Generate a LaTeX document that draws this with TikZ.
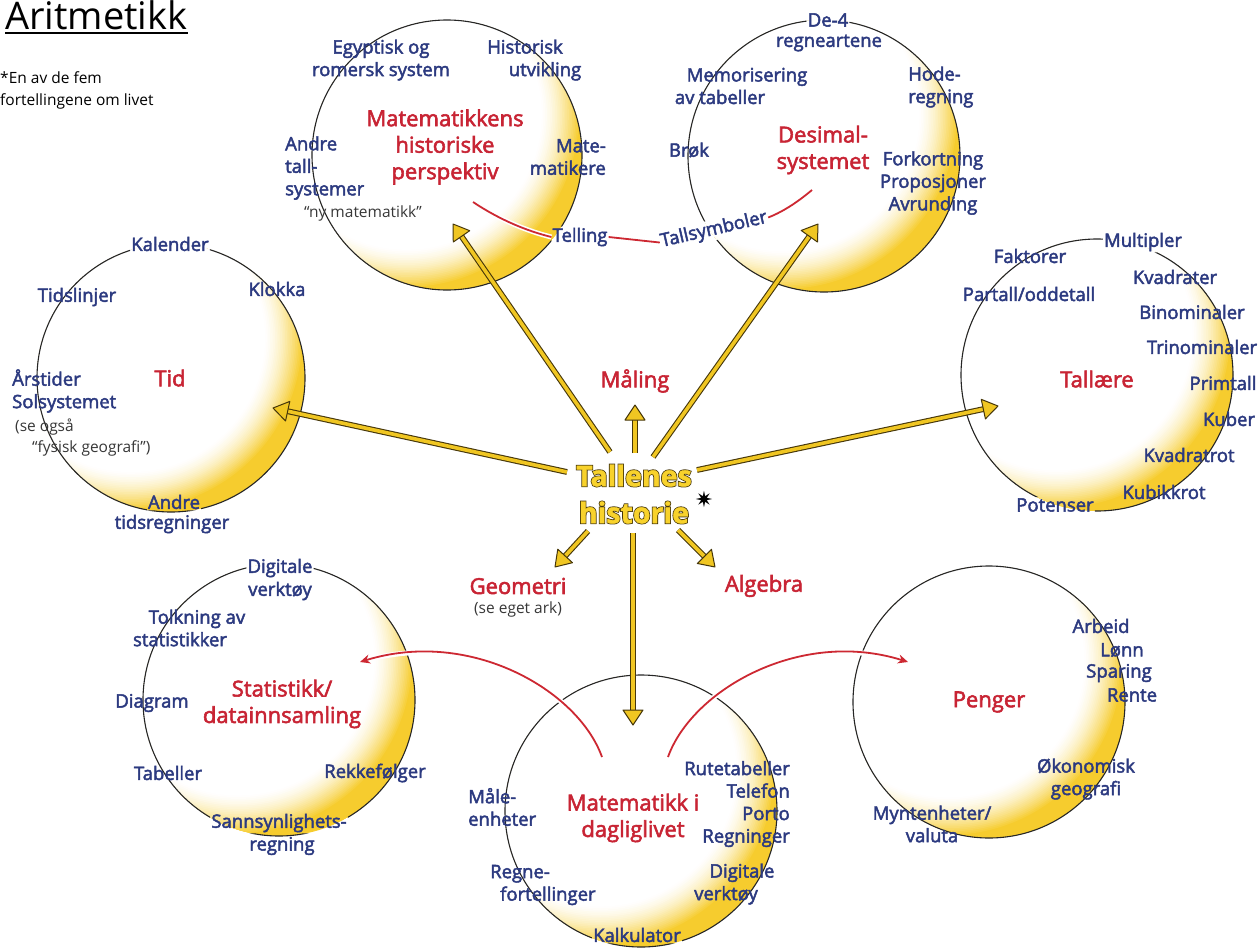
\documentclass[tikz,border=0pt]{standalone}
\usepackage{fontspec}
\setmainfont{Open Sans}
\newfontfamily\blfont{Open Sans}[FakeBold=2.5]
\newfontfamily\cenfont{Open Sans}[BoldFeatures={FakeBold=1.5}]
\newfontfamily\cenoutfont{Open Sans}[BoldFeatures={FakeBold=7}]
\newfontfamily\symfont{DejaVu Sans}
\usetikzlibrary{calc,arrows.meta}
\definecolor{lblue}{RGB}{44,58,128}
\definecolor{tred}{RGB}{200,36,52}
\definecolor{gy}{RGB}{246,204,46}
\definecolor{ay}{RGB}{240,198,34}
\definecolor{cy}{RGB}{248,210,44}
\definecolor{ad}{RGB}{70,55,10}
\definecolor{gtxt}{RGB}{55,55,55}
\definecolor{rl}{RGB}{205,40,50}
\pgfdeclarelayer{bglayer}
\pgfsetlayers{bglayer,main}
\newcommand\yarr[2]{%
  \coordinate (yb#2) at ($(#2)!15pt!(#1)$);
  \draw[yshaft] (#1) -- (yb#2);
  \draw[yhead] (#2) -- ($(yb#2)!10pt!90:(#2)$) -- ($(yb#2)!10pt!-90:(#2)$) -- cycle;
}
\begin{document}
\begin{tikzpicture}[x=1pt,y=-1pt,
  lbl/.style={font=\blfont\fontsize{18.5}{22.5}\selectfont, text=lblue, align=center, inner sep=1pt},
  ttl/.style={font=\blfont\fontsize{22}{26.5}\selectfont, text=tred, align=center, inner sep=1pt},
  gry/.style={font=\fontsize{15.5}{21}\selectfont, text=gtxt, align=center, inner sep=1pt},
  redln/.style={draw=rl, line width=1.8pt, preaction={draw=white, line width=5pt, arrows=-}},
  yshaft/.style={draw=ay, line width=3.6pt, preaction={draw=ad, line width=5.8pt}},
  yhead/.style={fill=ay, draw=ad, line width=1pt, line join=round},
  circ/.style={draw=black!85, line width=1.1pt}]
\useasboundingbox (0,0) rectangle (1259,951);

% title and note
\node[font=\fontsize{38}{40}\selectfont, anchor=base west, inner sep=0pt] (title) at (5,29) {Aritmetikk};
\draw[line width=2.6pt] ([yshift=-4pt]title.base west) -- ([yshift=-4pt]title.base east);
\node[font=\fontsize{15.5}{22}\selectfont, anchor=north west, align=left, inner sep=0pt] (note) at (0,71) {*En av de fem\\fortellingene om livet};

% red titles
\node[ttl] (t1) at (445,147) {Matematikkens\\historiske\\perspektiv};
\node[ttl] (t2) at (823,150) {Desimal-\\systemet};
\node[ttl] (t3) at (170,378) {Tid};
\node[ttl] (t4) at (1097,379) {Tallære};
\node[ttl] (t5) at (635,381) {Måling};
\node[ttl] (t6) at (518,586) {Geometri};
\node[gry] (t6b) at (518,609) {(se eget ark)};
\node[ttl] (t7) at (764,586) {Algebra};
\node[ttl] (t8) at (282,704) {Statistikk/\\datainnsamling};
\node[ttl] (t9) at (633,818) {Matematikk i\\dagliglivet};
\node[ttl] (t10) at (989,702) {Penger};

% centre (dark outline under yellow letters)
\node[font=\cenoutfont\bfseries\fontsize{28.5}{37}\selectfont, text=ad, align=center, inner sep=1pt] (cout) at (634,494) {Tallenes\\historie};
\node[font=\cenfont\bfseries\fontsize{28.5}{37}\selectfont, text=cy, align=center, inner sep=1pt] (c) at (634,494) {Tallenes\\historie};
\node[font=\symfont\fontsize{22}{22}\selectfont, inner sep=0pt] (star) at (704,499) {✷};

% circle 1
\node[lbl] (e1) at (381,60) {Egyptisk og\\romersk system};
\node[lbl] (e2) at (535,60) {Historisk\hspace*{20pt}\\\hspace*{20pt}utvikling};
\node[lbl, align=left, anchor=west] (e3) at (284,168) {Andre\\tall-\\systemer};
\node[gry] (e4) at (363,213) {“ny matematikk”};
\node[lbl, align=right, anchor=east] (e5) at (607,157) {Mate-\\matikere};
\node[lbl] (tel) at (580,237) {Telling};

% circle 2
\node[lbl] (d1) at (828,20) {De-4};
\node[lbl] (d2) at (829,43) {regneartene};
\node[lbl] (d3) at (734,86) {\hspace*{26pt}Memorisering\\av tabeller\hspace*{28pt}};
\node[lbl, align=left, anchor=west] (d4) at (907,87) {Hode-\\regning};
\node[lbl] (d5) at (689,150) {Brøk};
\node[lbl] (d6) at (933,183) {Forkortning\\Proposjoner\\Avrunding};
\node[lbl, rotate=13] (tsym) at (714,230) {Tallsymboler};

% circle 3
\node[lbl] (k1) at (170,244) {Kalender};
\node[lbl] (k2) at (277,289) {Klokka};
\node[lbl] (k3) at (77,297) {Tidslinjer};
\node[lbl, align=left, anchor=west] (k4) at (11,391) {Årstider\\Solsystemet};
\node[gry, align=left, anchor=west] (k5) at (14,438) {(se også\\\hspace*{17pt}“fysisk geografi”)};
\node[lbl] (k6) at (174,502) {Andre};
\node[lbl] (k7) at (172,524) {tidsregninger};

% circle 4
\node[lbl] (q1) at (1143,242) {Multipler};
\node[lbl] (q2) at (1030,256) {Faktorer};
\node[lbl] (q3) at (1175,277) {Kvadrater};
\node[lbl] (q4) at (1029,294) {Partall/oddetall};
\node[lbl] (q5) at (1192,312) {Binominaler};
\node[lbl] (q6) at (1202,347) {Trinominaler};
\node[lbl] (q7) at (1223,383) {Primtall};
\node[lbl] (q8) at (1229,419) {Kuber};
\node[lbl] (q9) at (1189,455) {Kvadratrot};
\node[lbl] (q10) at (1164,492) {Kubikkrot};
\node[lbl] (q11) at (1055,505) {Potenser};

% circle 5
\node[lbl] (s1) at (280,568) {Digitale};
\node[lbl] (s2) at (280,591) {verktøy};
\node[lbl] (s3) at (189,628) {\hspace*{16pt}Tolkning av\\statistikker\hspace*{18pt}};
\node[lbl] (s4) at (152,703) {Diagram};
\node[lbl] (s5) at (168,773) {Tabeller};
\node[lbl] (s6) at (375,773) {Rekkefølger};
\node[lbl] (s7) at (279,823) {Sannsynlighets-};
\node[lbl] (s8) at (282,846) {regning};

% circle 6
\node[lbl, align=left, anchor=west] (m1) at (467,807) {Måle-\\enheter};
\node[lbl, align=right, anchor=east] (m2) at (791,804) {Rutetabeller\\Telefon\\Porto\\Regninger};
\node[lbl, align=left, anchor=west] (m3) at (489,885) {Regne-\\\hspace*{10pt}fortellinger};
\node[lbl] (m4) at (734,884) {\hspace*{16pt}Digitale\\verktøy\hspace*{16pt}};
\node[lbl] (m5) at (637,935) {Kalkulator};

% circle 7
\node[lbl] (p1) at (1101,626) {Arbeid};
\node[lbl] (p2) at (1122,650) {Lønn};
\node[lbl] (p3) at (1119,673) {Sparing};
\node[lbl] (p4) at (1132,695) {Rente};
\node[lbl] (p5) at (1086,779) {Økonomisk\\geografi};
\node[lbl] (p6) at (932,824) {Myntenheter/\\valuta};

% background: glowing circles and outlines
\begin{pgfonlayer}{bglayer}
\foreach \cx/\cy/\r in {447/155/135, 824/156/136, 171/378/134, 1097/375/136, 279/700/136, 641/811/136, 989/702/136} {
  \begin{scope}
    \clip (\cx,\cy) circle[radius=\r];
    \fill[gy] (\cx,\cy) circle[radius=\r];
    \foreach \i in {0,...,24} {
      \pgfmathtruncatemacro\pc{100*((24-\i)/24)^1.6}
      \fill[gy!\pc!white] ({\cx-0.30*\r},{\cy-0.30*\r}) circle[radius={(1.29-0.0125*\i)*\r}];
    }
  \end{scope}
}
\begin{scope}
  \clip (-5,-5) -- (1265,-5) -- (1265,960) -- (-5,960) -- cycle
    \foreach \n in {k1,d1,q1,s1,q11,m5,s7,k6,tel,tsym} {(\n.south west) -- (\n.south east) -- (\n.north east) -- (\n.north west) -- cycle};
  \foreach \cx/\cy/\r in {447/155/135, 824/156/136, 171/378/134, 1097/375/136, 279/700/136, 641/811/136, 989/702/136} {
    \draw[circ] (\cx,\cy) circle[radius=\r];
  }
\end{scope}
\end{pgfonlayer}

% red connectors
\coordinate (rt1) at (473,202);
\coordinate (rt2) at (812,190);
\draw[redln] (rt1) .. controls (500,220) and (527,231) .. (tel.west);
\draw[redln] (tel.east) -- (tsym.west);
\draw[redln] (tsym.east) .. controls (785,211) and (800,200) .. (rt2);

\coordinate (r1s) at (602,757);
\coordinate (r1e) at (360,662);
\coordinate (r2s) at (668,757);
\coordinate (r2e) at (908,662);
\draw[redln, -{Stealth[length=10pt,width=9pt]}] (r1s) .. controls (578,690) and (470,628) .. (r1e);
\draw[redln, -{Stealth[length=10pt,width=9pt]}] (r2s) .. controls (692,690) and (800,628) .. (r2e);

% yellow arrows
\coordinate (a1s) at (610,452); \coordinate (a1t) at (453,224);
\coordinate (a2s) at (653,457); \coordinate (a2t) at (818,224);
\coordinate (a3s) at (567,472); \coordinate (a3t) at (273,408);
\coordinate (a4s) at (697,470); \coordinate (a4t) at (998,406);
\coordinate (a5s) at (635,453); \coordinate (a5t) at (635,405);
\coordinate (a6s) at (588,531); \coordinate (a6t) at (555,567);
\coordinate (a7s) at (678,530); \coordinate (a7t) at (715,567);
\coordinate (a8s) at (633,533); \coordinate (a8t) at (633,725);
\yarr{a1s}{a1t}
\yarr{a2s}{a2t}
\yarr{a3s}{a3t}
\yarr{a4s}{a4t}
\yarr{a5s}{a5t}
\yarr{a6s}{a6t}
\yarr{a7s}{a7t}
\yarr{a8s}{a8t}
\end{tikzpicture}
\end{document}
